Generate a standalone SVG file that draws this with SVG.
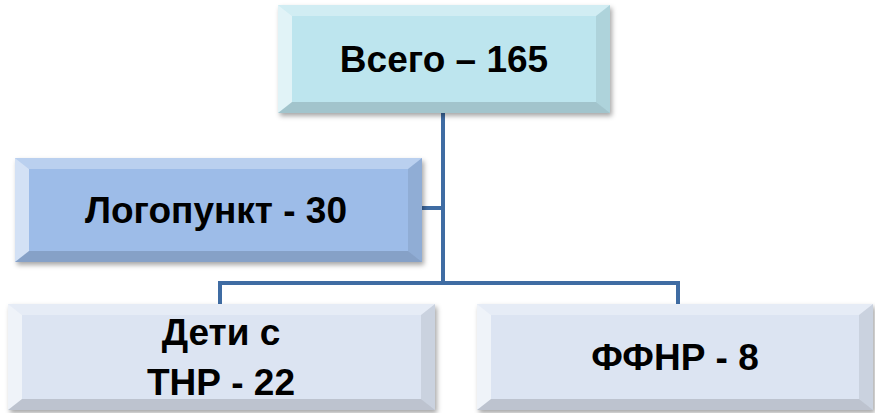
<svg xmlns="http://www.w3.org/2000/svg" width="875" height="413" viewBox="0 0 875 413">
<defs>
<filter id="sh" x="-5%" y="-10%" width="112%" height="130%">
<feDropShadow dx="2" dy="3" stdDeviation="2.5" flood-color="#000" flood-opacity="0.35"/>
</filter>
</defs>
<style>
.lbl{font-family:"Liberation Sans",Arial,sans-serif;font-weight:bold;font-size:37px;fill:#000;text-anchor:middle}
.bt{fill:#fff;fill-opacity:0.3}
.bl{fill:#fff;fill-opacity:0.55}
.br{fill:#000;fill-opacity:0.08}
.bb{fill:#000;fill-opacity:0.14}
.conn{fill:none;stroke:#3F6CA3;stroke-width:4}
</style>
<rect width="875" height="413" fill="#fff"/>
<g id="connectors">
<path class="conn" d="M443,113 V283"/>
<path class="conn" d="M422,208 H443"/>
<path class="conn" d="M220,304 V283 H678 V304"/>
</g>
<g id="n-total" transform="translate(278,5)">
<rect width="332" height="108" fill="#BDE5EE" filter="url(#sh)"/>
<polygon class="bt" points="0,0 332,0 318,11 14,11"/>
<polygon class="bl" points="0,0 14,11 14,97 0,108"/>
<polygon class="br" points="332,0 332,108 318,97 318,11"/>
<polygon class="bb" points="0,108 14,97 318,97 332,108"/>
<text class="lbl" x="166" y="67">Всего – 165</text>
</g>
<g id="n-logo" transform="translate(15,158)">
<rect width="407" height="104" fill="#9DBCE8" filter="url(#sh)"/>
<polygon class="bt" points="0,0 407,0 393,11 14,11"/>
<polygon class="bl" points="0,0 14,11 14,93 0,104"/>
<polygon class="br" points="407,0 407,104 393,93 393,11"/>
<polygon class="bb" points="0,104 14,93 393,93 407,104"/>
<text class="lbl" x="201" y="65">Логопункт - 30</text>
</g>
<g id="n-tnr" transform="translate(8,304)">
<rect width="427" height="106" fill="#DCE4F2" filter="url(#sh)"/>
<polygon class="bt" points="0,0 427,0 413,11 14,11"/>
<polygon class="bl" points="0,0 14,11 14,95 0,106"/>
<polygon class="br" points="427,0 427,106 413,95 413,11"/>
<polygon class="bb" points="0,106 14,95 413,95 427,106"/>
<text class="lbl" x="213" y="41">Дети с</text>
<text class="lbl" x="213" y="91">ТНР - 22</text>
</g>
<g id="n-ffnr" transform="translate(477,304)">
<rect width="396" height="106" fill="#DCE4F2" filter="url(#sh)"/>
<polygon class="bt" points="0,0 396,0 382,11 14,11"/>
<polygon class="bl" points="0,0 14,11 14,95 0,106"/>
<polygon class="br" points="396,0 396,106 382,95 382,11"/>
<polygon class="bb" points="0,106 14,95 382,95 396,106"/>
<text class="lbl" x="198" y="66">ФФНР - 8</text>
</g>
</svg>
